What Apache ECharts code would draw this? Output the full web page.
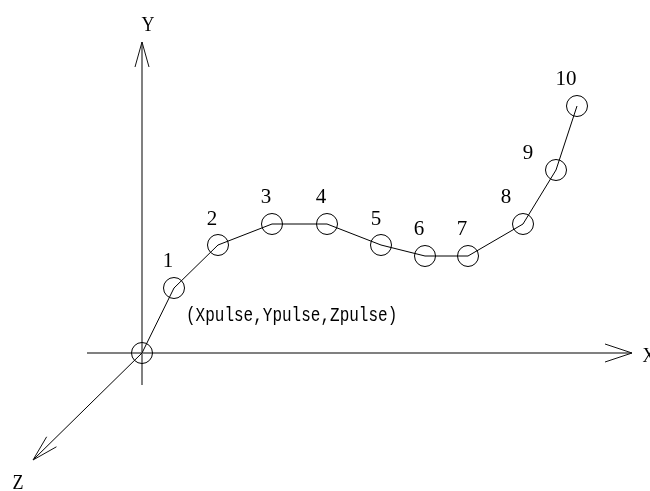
<!DOCTYPE html>
<html>
<head>
<meta charset="utf-8">
<script src="https://cdn.jsdelivr.net/npm/echarts@6/dist/echarts.min.js"></script>
<style>html,body{margin:0;padding:0;background:#fff}#c{width:650px;height:491px}</style>
</head>
<body>
<div id="c"></div>
<script>
// Data (diagram units: origin at the pulse position)
var pointNames = ['', '1', '2', '3', '4', '5', '6', '7', '8', '9', '10'];
var pointX = [0, 32, 76, 130, 185, 239, 283, 326, 381, 414, 435];
var pointY = [0, 65, 108, 129, 129, 108, 97, 97, 129, 183, 247];
var axisNames = ['X', 'Y', 'Z'];
var axisStart = [[-55, 0], [0, -32], [0, 0]];
var axisEnd = [[490, 0], [0, 311], [-109, -107]];
var annotation = '(Xpulse,Ypulse,Zpulse)';

// styling / positioning (not data)
var labelOffsets = [[0,0],[-6,-27],[-6,-26],[-6,-27],[-6,-27],[-5,-26],[-6,-27],[-6,-27],[-17,-27],[-28,-17],[-11,-27]];
var arrowLen = [27, 25, 26];
var arrowHalf = [9, 7, 7];
var axisColor = ['#808080', '#808080', '#000'];
var axisWidth = [2, 2, 1];
var axisNameOffset = [[17, 4], [6, -16], [-15, 24]];

var chart = echarts.init(document.getElementById('c'), null, {renderer: 'canvas'});

var lineData = pointX.map(function (x, i) {
  return {
    value: [x, pointY[i]],
    name: pointNames[i],
    label: {show: pointNames[i] !== '', offset: labelOffsets[i]}
  };
});

var axisData = axisNames.map(function (n, i) {
  return [axisStart[i][0], axisStart[i][1], axisEnd[i][0], axisEnd[i][1]];
});

var serif = '"Liberation Serif", "DejaVu Serif", serif';

chart.setOption({
  animation: false,
  backgroundColor: '#fff',
  grid: {left: 0, top: 0, right: 0, bottom: 0},
  xAxis: {type: 'value', min: -142, max: 508, show: false},
  yAxis: {type: 'value', min: -138, max: 353, show: false},
  series: [
    {
      type: 'custom',
      z: 1,
      data: axisData,
      renderItem: function (params, api) {
        var i = params.dataIndex;
        var p0 = api.coord([api.value(0), api.value(1)]);
        var p1 = api.coord([api.value(2), api.value(3)]);
        var dx = p1[0] - p0[0], dy = p1[1] - p0[1];
        var len = Math.sqrt(dx * dx + dy * dy);
        var ux = dx / len, uy = dy / len;
        var nx = -uy, ny = ux;
        var L = arrowLen[i], W = arrowHalf[i];
        var bx = p1[0] - ux * L, by = p1[1] - uy * L;
        var w1 = [bx + nx * W, by + ny * W];
        var w2 = [bx - nx * W, by - ny * W];
        return {
          type: 'group',
          children: [
            {type: 'line', shape: {x1: p0[0], y1: p0[1], x2: p1[0], y2: p1[1]},
             style: {stroke: axisColor[i], lineWidth: axisWidth[i]}},
            {type: 'polyline', shape: {points: [w1, p1, w2]},
             style: {stroke: '#111', lineWidth: 1, fill: null}},
            {type: 'text', x: p1[0] + axisNameOffset[i][0], y: p1[1] + axisNameOffset[i][1],
             scaleY: 1.15,
             style: {text: axisNames[i], font: '18px ' + serif, fill: '#000',
                     align: 'center', verticalAlign: 'middle'}}
          ]
        };
      }
    },
    {
      type: 'line',
      z: 3,
      data: lineData,
      symbol: 'circle',
      symbolSize: 21,
      lineStyle: {color: '#000', width: 1},
      itemStyle: {color: 'rgba(0,0,0,0)', borderColor: '#000', borderWidth: 1},
      label: {
        position: 'inside',
        formatter: function (p) { return p.name; },
        fontFamily: 'Liberation Serif',
        fontSize: 21,
        color: '#000',
        textBorderWidth: 0,
        textBorderColor: 'transparent'
      },
      emphasis: {disabled: true}
    }
  ],
  graphic: [
    {type: 'text', x: 186, y: 315, scaleY: 1.3,
     style: {text: annotation, font: '16px "Liberation Mono", monospace', fill: '#000',
             verticalAlign: 'middle'}}
  ]
});
</script>
</body>
</html>
